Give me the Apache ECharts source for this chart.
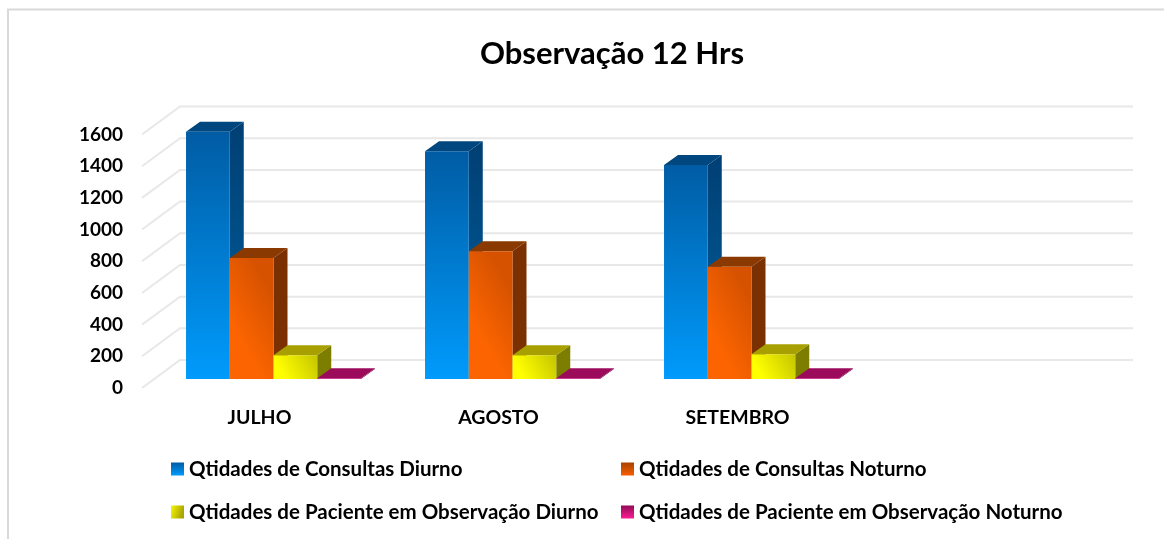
<!DOCTYPE html>
<html>
<head>
<meta charset="utf-8">
<style>
  html, body { margin: 0; padding: 0; background: #fff; }
  #main { width: 1164px; height: 539px; }
</style>
<script src="https://cdn.jsdelivr.net/npm/echarts@6/dist/echarts.min.js"></script>
</head>
<body>
<div id="main"></div>
<script>
const months = ['JULHO', 'AGOSTO', 'SETEMBRO', ''];
const yTicks = [0, 200, 400, 600, 800, 1000, 1200, 1400, 1600];
const consultasDiurno = [1560, 1438, 1350, null];
const consultasNoturno = [763, 807, 708, null];
const pacienteDiurno = [150, 150, 157, null];
const pacienteNoturno = [4, 4, 4, null];

const FONT = 'Lato, "Open Sans", sans-serif';
// depth of the back wall and of the bars, in px
const WALL_DX = 38, WALL_DY = 28;
const BAR_DX = 14, BAR_DY = 10;
const BAR_SHIFT_X = 12, BAR_SHIFT_Y = 9;
const BAR_WIDTH = 0.183; // share of the category band

const grad = (c0, c1, x = 0, y = 0, x2 = 0, y2 = 1) => new echarts.graphic.LinearGradient(x, y, x2, y2, [
    { offset: 0, color: c0 },
    { offset: 1, color: c1 },
]);

function makeBar(name, values, idx, front, top, side, icon) {
    return {
        type: 'custom',
        name: name,
        z: 3 + idx,
        itemStyle: { color: icon },
        encode: { x: 0, y: 1 },
        data: values.map((v, i) => [i, v]),
        renderItem: function (params, api) {
            const v = api.value(1);
            if (v === null || isNaN(v)) return null;
            const c = api.value(0);
            const base = api.coord([c, 0]);
            const w = api.size([1, 0])[0] * BAR_WIDTH;
            const x0 = base[0] + BAR_SHIFT_X + (idx - 2) * w;
            const x1 = x0 + w;
            const y0 = base[1] - BAR_SHIFT_Y;
            const y1 = api.coord([c, v])[1] - BAR_SHIFT_Y;
            return {
                type: 'group',
                children: [
                    { type: 'polygon', shape: { points: [[x1, y0], [x1 + BAR_DX, y0 - BAR_DY], [x1 + BAR_DX, y1 - BAR_DY], [x1, y1]] }, style: { fill: side } },
                    { type: 'polygon', shape: { points: [[x0, y1], [x0 + BAR_DX, y1 - BAR_DY], [x1 + BAR_DX, y1 - BAR_DY], [x1, y1]] }, style: { fill: top } },
                    { type: 'rect', shape: { x: x0, y: y1, width: w, height: y0 - y1 }, style: { fill: front } },
                ],
            };
        },
    };
}

const names = [
    'Qtidades de Consultas Diurno',
    'Qtidades de Consultas Noturno',
    'Qtidades de Paciente em Observação Diurno',
    'Qtidades de Paciente em Observação Noturno',
];

const wallSeries = {
    type: 'custom',
    silent: true,
    z: 1,
    encode: { x: 0, y: 1 },
    data: yTicks.map((v) => [0, v]),
    renderItem: function (params, api) {
        const cs = params.coordSys;
        const y = api.coord([0, api.value(1)])[1];
        return {
            type: 'polyline',
            shape: { points: [[cs.x, y], [cs.x + WALL_DX, y - WALL_DY], [cs.x + cs.width + WALL_DX - 3, y - WALL_DY]] },
            style: { stroke: '#e8e8e8', lineWidth: 2, fill: null },
        };
    },
};

const legendText = { color: '#000', fontFamily: FONT, fontSize: 20.5, fontWeight: 'bold', lineHeight: 22 };

const option = {
    animation: false,
    backgroundColor: '#fff',
    textStyle: { fontFamily: FONT },
    title: {
        text: 'Observação 12 Hrs',
        left: 607,
        top: 33,
        textAlign: 'center',
        textStyle: { fontFamily: FONT, fontSize: 31, fontWeight: 'bold', color: '#000' },
    },
    graphic: [
        { type: 'polyline', silent: true, shape: { points: [[8, 539], [8, 9.5], [1164, 9.5]] }, style: { stroke: '#d9d9d9', lineWidth: 2, fill: null } },
    ],
    grid: { left: 142, top: 134.5, width: 956, height: 253.5 },
    xAxis: {
        type: 'category',
        data: months,
        axisLine: { show: false },
        axisTick: { show: false },
        splitLine: { show: false },
        axisLabel: { color: '#000', fontFamily: FONT, fontSize: 19.5, fontWeight: 'bold', margin: 20, padding: [0, 4, 0, 0], interval: 0 },
    },
    yAxis: {
        type: 'value',
        min: 0,
        max: 1600,
        interval: 200,
        axisLine: { show: false },
        axisTick: { show: false },
        splitLine: { show: false },
        axisLabel: {
            color: '#000',
            fontFamily: FONT,
            fontSize: 19,
            fontWeight: 'bold',
            margin: 19,
            padding: [5, 0, 0, 0],
            formatter: (v) => String(v),
        },
    },
    legend: [
        {
            data: [names[0], names[2]],
            orient: 'vertical',
            left: 166,
            top: 453,
            icon: 'rect',
            itemWidth: 13,
            itemHeight: 13,
            itemGap: 21,
            selectedMode: false,
            textStyle: legendText,
        },
        {
            data: [names[1], names[3]],
            orient: 'vertical',
            left: 616,
            top: 453,
            icon: 'rect',
            itemWidth: 13,
            itemHeight: 13,
            itemGap: 21,
            selectedMode: false,
            textStyle: legendText,
        },
    ],
    series: [
        wallSeries,
        makeBar(names[0], consultasDiurno, 0, grad('#005ca4', '#009bfc'), '#00477f', grad('#003f74', '#00609f'), grad('#005ca4', '#009bfc')),
        makeBar(names[1], consultasNoturno, 1, grad('#fb6400', '#d65200', 0, 0.5, 1, 0.3), '#8a3a00', '#7a3000', grad('#a84200', '#f85e00')),
        makeBar(names[2], pacienteDiurno, 2, grad('#ffff00', '#c4c400', 0.2, 0.8, 1, 0), '#a8a000', '#7d7d00', grad('#f8f800', '#a8a400', 0, 0, 1, 0.3)),
        makeBar(names[3], pacienteNoturno, 3, '#c01078', '#9c0a5c', '#7d0848', grad('#930a58', '#fb1c92')),
    ],
};

const chart = echarts.init(document.getElementById('main'), null, { renderer: 'canvas' });
chart.setOption(option);
</script>
</body>
</html>
